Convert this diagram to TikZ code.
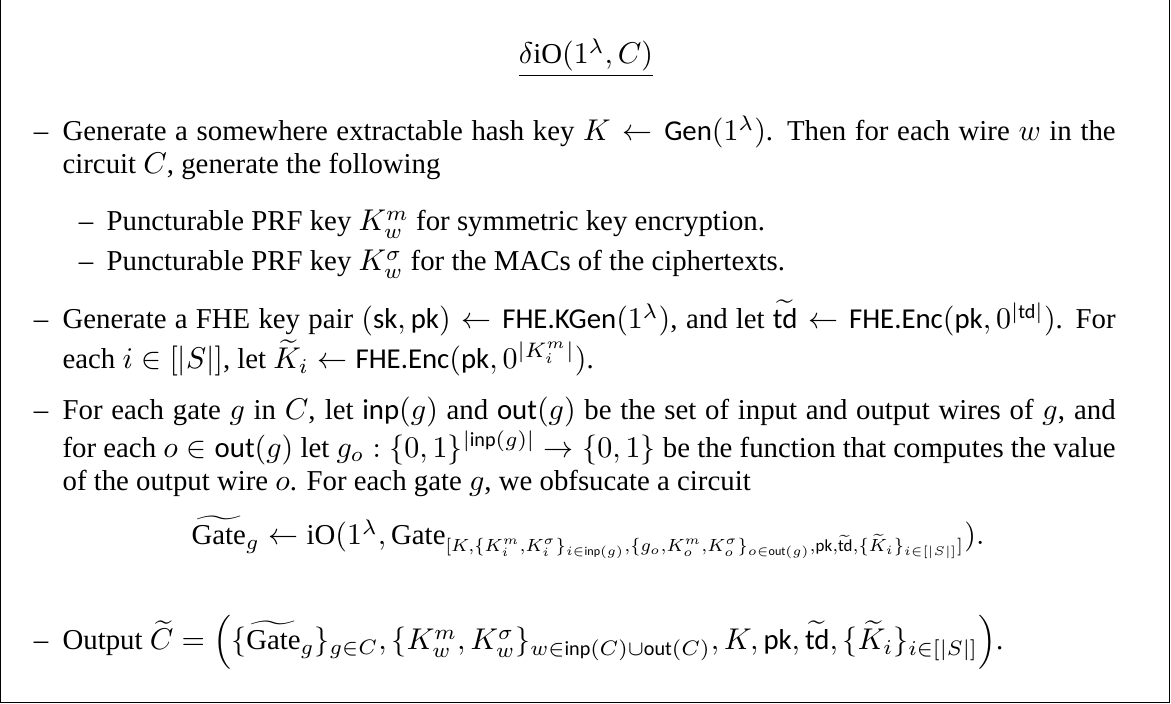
\documentclass[tikz,border=0pt]{standalone}
\usepackage{amsmath}
\usepackage{graphicx}
\usepackage{fontspec}
\setmainfont{Liberation Serif}
\newfontfamily\sffam{Carlito}
\newcommand{\sfm}[1]{\text{\sffam #1}}
\newcommand{\rmm}[1]{\text{#1}}

\begin{document}
\begin{tikzpicture}
[x=0.3333pt,y=-0.3333pt,
  stepbox/.style={anchor=base west,inner sep=0pt,text width=351pt,align=justify},
  subtext/.style={anchor=base west,inner sep=0pt},
  dashmark/.style={anchor=base,inner sep=0pt}]
\fontsize{9.6}{11}\selectfont
\tolerance=9999 \hyphenpenalty=10000
\useasboundingbox (0,0) rectangle (1171,704);
%% frame
\draw[line width=0.5pt] (0.5,0) -- (0.5,702.5) -- (1169.5,702.5) -- (1169.5,0);
%% heading
\node[dashmark] (title) at (586,64) {$\underline{\delta\rmm{iO}(1^\lambda, C)}$};
%% dashes of the items
\foreach \dashname/\x/\y in {
  d1/41/141, d2/86/231, d3/86/271, d4/41/329, d5/41/420, d6/41/650}
{
  \node[dashmark] (\dashname) at (\x,\y) {--};
}
%% items
\node[stepbox] (step1) at (62,141) {Generate a somewhere extractable hash key $K \leftarrow \sfm{Gen}(1^\lambda)$. Then for each wire $w$ in the\linebreak circuit $C$, generate the following};
\node[subtext] (sub1) at (106,231) {Puncturable PRF key $K_w^m$ for symmetric key encryption.};
\node[subtext] (sub2) at (106,271) {Puncturable PRF key $K_w^\sigma$ for the MACs of the ciphertexts.};
\node[stepbox] (step2) at (62,329) {Generate a FHE key pair $(\sfm{sk},\sfm{pk}) \leftarrow \sfm{FHE.KGen}(1^\lambda)$, and let $\widetilde{\sfm{td}} \leftarrow \sfm{FHE.Enc}(\sfm{pk}, 0^{|\sfm{td}|})$. For\linebreak each $i \in [|S|]$, let $\widetilde{K}_i \leftarrow \sfm{FHE.Enc}(\sfm{pk}, 0^{|K_i^m|})$.};
\node[stepbox] (step3) at (62,420) {For each gate $g$ in $C$, let $\sfm{inp}(g)$ and $\sfm{out}(g)$ be the set of input and output wires of $g$, and\linebreak for each $o \in \sfm{out}(g)$ let $g_o : \{0,1\}^{|\sfm{inp}(g)|} \rightarrow \{0,1\}$ be the function that computes the value\linebreak of the output wire $o$. For each gate $g$, we obfsucate a circuit};
\node[dashmark] (gateeq) at (588,545) {$\widetilde{\rmm{Gate}}_g \leftarrow \rmm{iO}(1^\lambda, \rmm{Gate}_{\scalebox{0.84}{$\scriptstyle[K, \{K_i^m,K_i^\sigma\}_{i\in\sfm{inp}(g)}, \{g_o,K_o^m,K_o^\sigma\}_{o\in\sfm{out}(g)}, \sfm{pk}, \widetilde{\sfm{td}}, \{\widetilde{K}_i\}_{i\in[|S|]}]$}}).$};
\node[stepbox] (step4) at (62,650) {Output $\widetilde{C} = \left(\{\widetilde{\rmm{Gate}}_g\}_{g\in C}, \{K_w^m, K_w^\sigma\}_{w\in\sfm{inp}(C)\cup\sfm{out}(C)}, K, \sfm{pk}, \widetilde{\sfm{td}}, \{\widetilde{K}_i\}_{i\in[|S|]}\right)$.};
\end{tikzpicture}
\end{document}
